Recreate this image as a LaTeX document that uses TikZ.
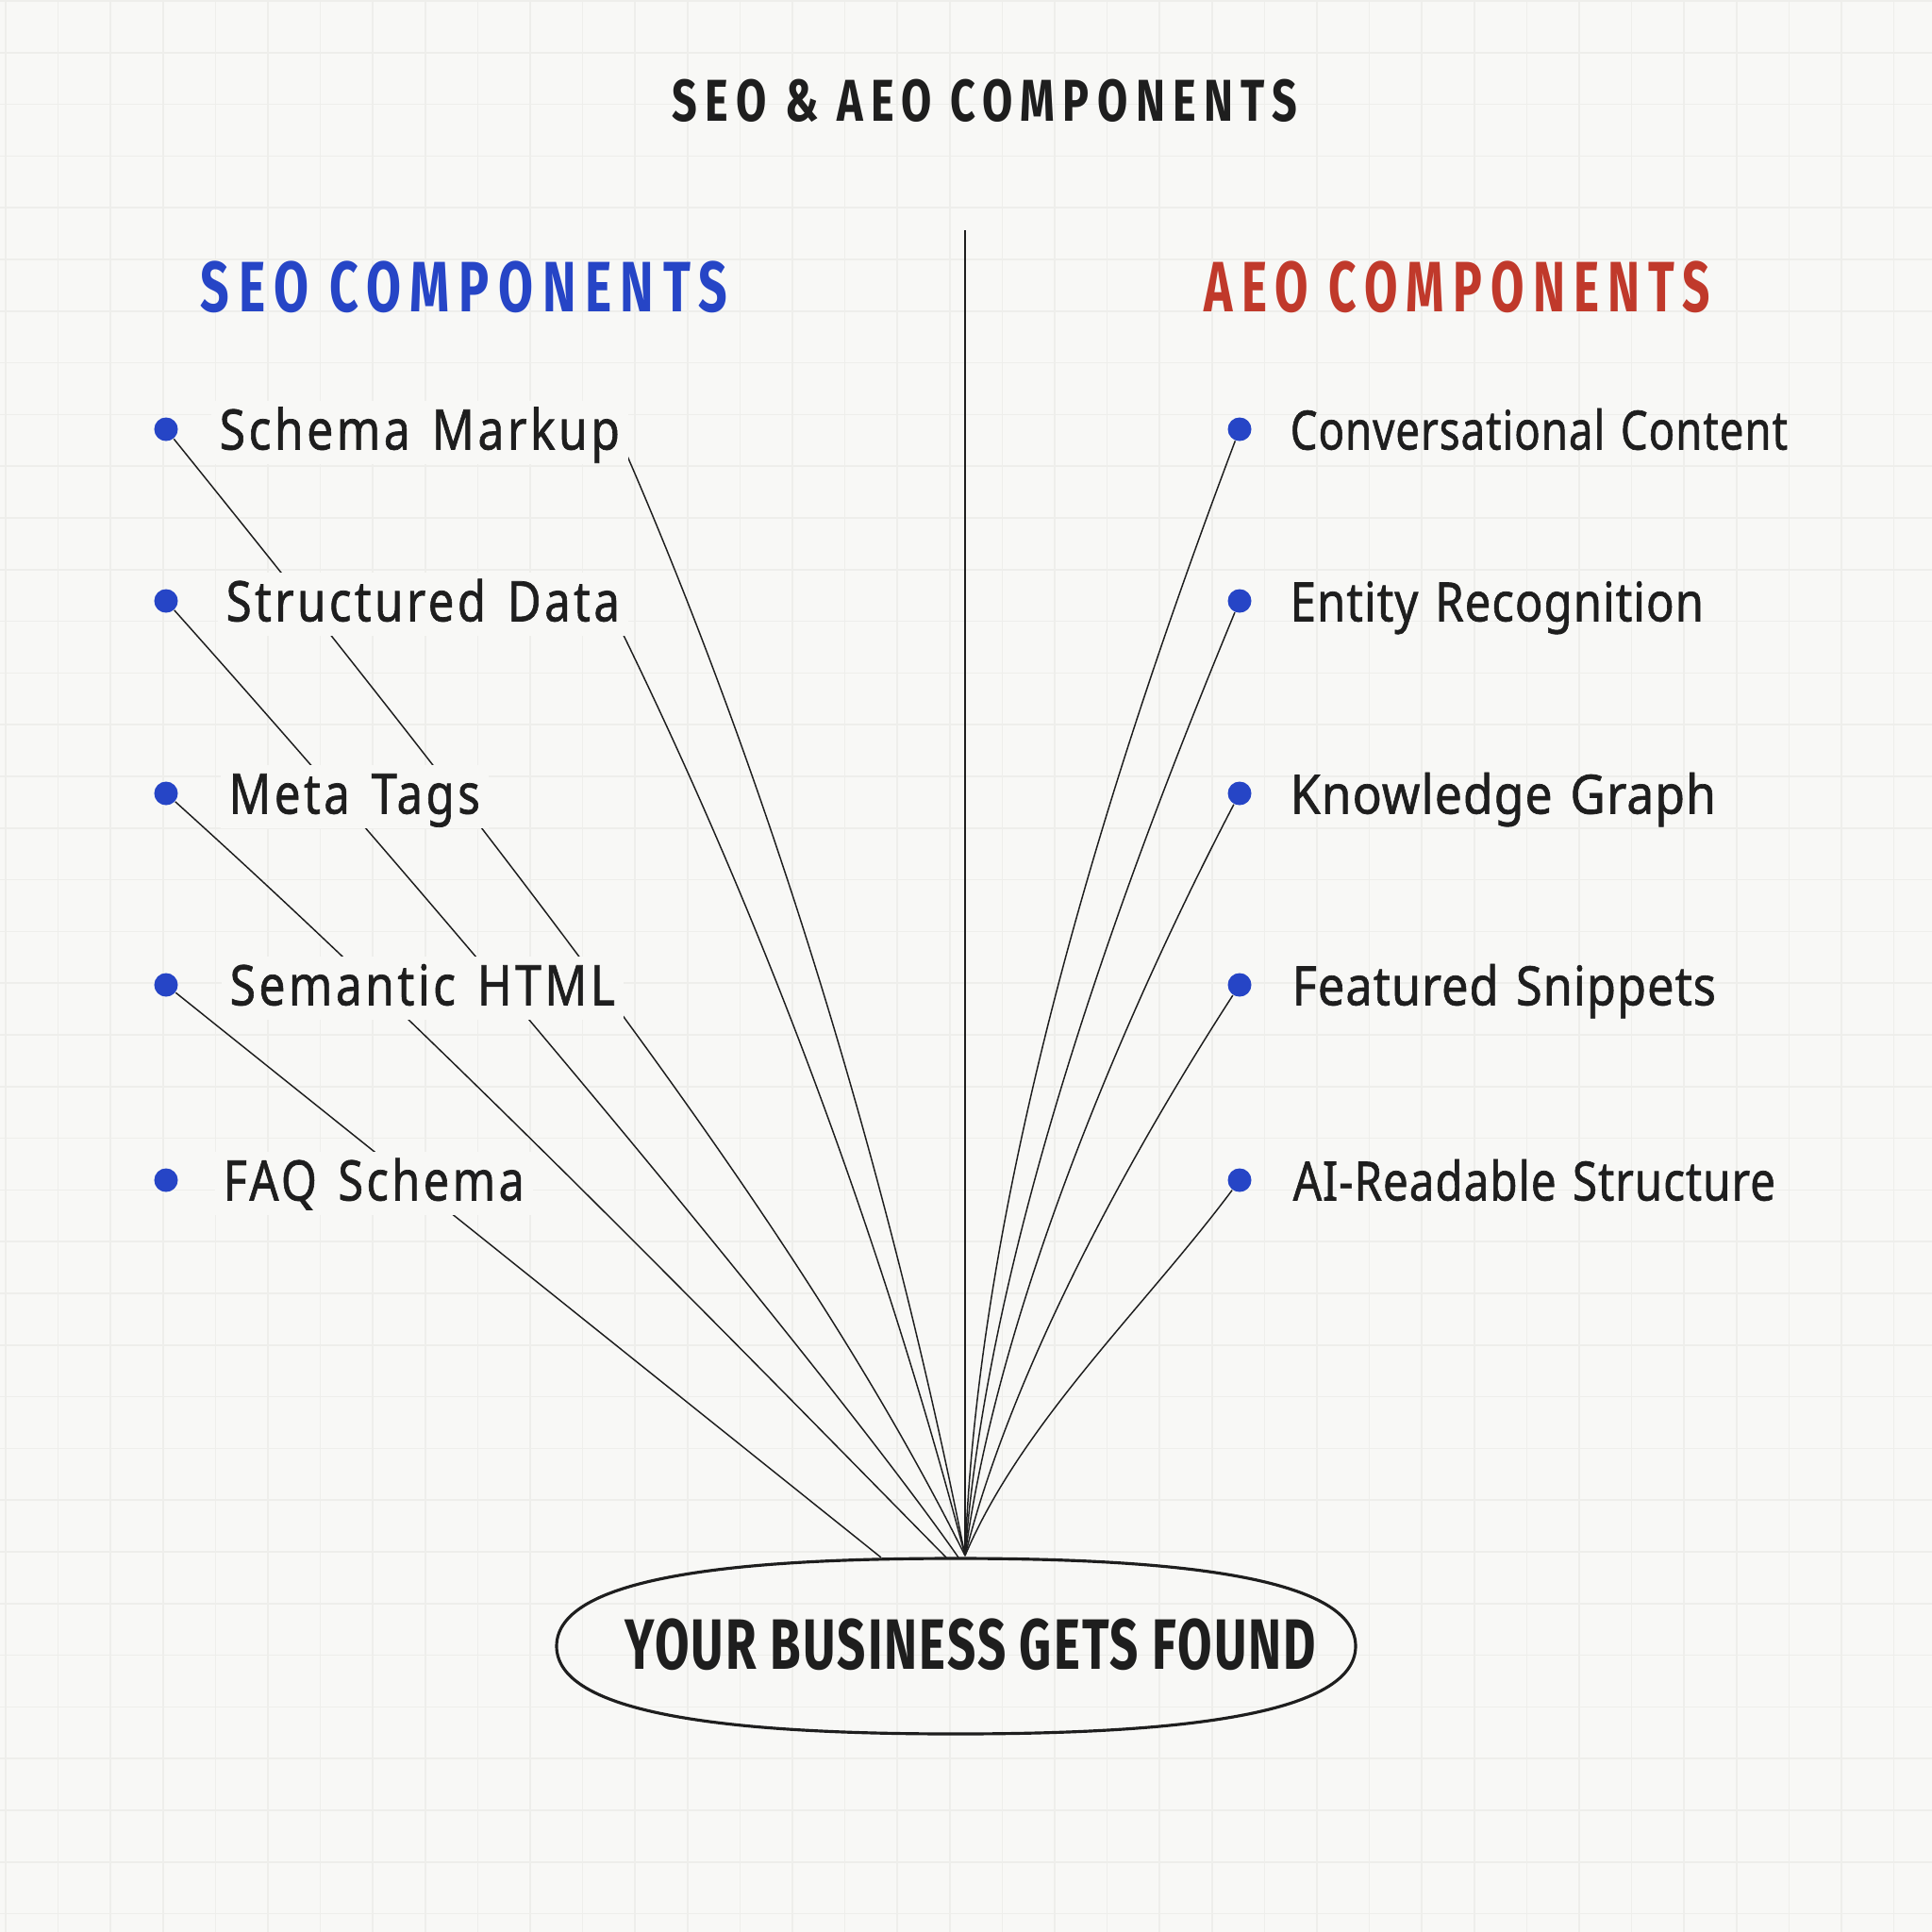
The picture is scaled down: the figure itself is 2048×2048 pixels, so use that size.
\documentclass[tikz,border=0pt]{standalone}
\usepackage{fontspec}
\usepackage{graphicx}
\setmainfont{Noto Sans}
\newfontfamily\labelfont{Noto Sans}[LetterSpace=7, FakeBold=1.2, WordSpace=1.4]
\newfontfamily\rlabelfont{Noto Sans}[LetterSpace=2, FakeBold=1.2, WordSpace=1.3]
\newfontfamily\headfont{Fira Sans}[LetterSpace=18]
\newfontfamily\goalfont{Fira Sans}[LetterSpace=4]
\definecolor{bg}{HTML}{F8F8F6}
\definecolor{gridc}{HTML}{EEEEEB}
\definecolor{seoblue}{HTML}{2645C6}
\definecolor{aeored}{HTML}{C0392B}
\definecolor{ink}{HTML}{1E1E1E}
\newcommand{\fitw}[2]{\resizebox{#1}{\height}{#2}}
\pgfdeclarelayer{gridlayer}
\pgfdeclarelayer{linelayer}
\pgfsetlayers{gridlayer,linelayer,main}
\tikzset{
  gridline/.style={draw=gridc, line width=0.45pt},
  conn/.style={draw=ink, line width=0.42pt},
  vline/.style={draw=ink, line width=0.6pt},
  bullet/.style={circle, fill=seoblue, inner sep=0pt, minimum size=0.25cm},
  lab/.style={anchor=base west, fill=bg, inner xsep=0.09cm, inner ysep=0pt,
    text height=0.515cm, text depth=0.155cm, text=ink,
    font=\labelfont\fontsize{16.8}{20}\selectfont},
  rlab/.style={anchor=base west, inner xsep=0.09cm, inner ysep=0pt, text=ink,
    font=\rlabelfont\fontsize{16.3}{20}\selectfont},
  titletext/.style={text=ink, inner sep=0pt, font=\headfont\bfseries\fontsize{17.8}{20}\selectfont},
  headtext/.style={inner sep=0pt, font=\headfont\bfseries\fontsize{21.5}{24}\selectfont},
  goaltext/.style={text=ink, inner sep=0pt, font=\goalfont\bfseries\fontsize{21.5}{24}\selectfont},
  goalshape/.style={draw=ink, line width=0.9pt}
}
\begin{document}
\begin{tikzpicture}[x=0.01cm,y=-0.01cm]
\useasboundingbox (0,0) rectangle (2048,2048);
\begin{pgfonlayer}{gridlayer}
\fill[bg] (0,0) rectangle (2048,2048);
\foreach \i in {0,...,36} {\draw[gridline] ({6+55.6*\i},0) -- ({6+55.6*\i},2048);}
\foreach \j in {0,...,37} {\draw[gridline] (0,{1+54.8*\j}) -- (2048,{1+54.8*\j});}
\end{pgfonlayer}

% titles
\node[titletext] (title) at (1044,106.5) {\fitw{6.62cm}{SEO \& AEO COMPONENTS}};
\node[headtext, text=seoblue] (seoh) at (492,304) {\fitw{5.58cm}{SEO COMPONENTS}};
\node[headtext, text=aeored] (aeoh) at (1545,304) {\fitw{5.36cm}{AEO COMPONENTS}};

% left labels
\node[lab] (sm) at (223,476.5) {\fitw{4.24cm}{Schema Markup}};
\node[lab] (sd) at (230,658.5) {\fitw{4.17cm}{Structured Data}};
\node[lab] (mt) at (233,862.5) {\fitw{2.66cm}{Meta Tags}};
\node[lab] (sh) at (234,1065.5) {\fitw{4.08cm}{Semantic HTML}};
\node[lab] (fq) at (227,1272.5) {\fitw{3.19cm}{FAQ Schema}};

% right labels
\node[rlab] (cc) at (1358,476.5) {\fitw{5.27cm}{Conversational Content}};
\node[rlab] (er) at (1358,658.5) {\fitw{4.38cm}{Entity Recognition}};
\node[rlab] (kg) at (1358,862.5) {\fitw{4.51cm}{Knowledge Graph}};
\node[rlab] (fs) at (1360,1065.5) {\fitw{4.49cm}{Featured Snippets}};
\node[rlab] (ar) at (1361,1272.5) {\fitw{5.11cm}{AI-Readable Structure}};

% bullets
\node[bullet] (l1) at (176,455) {};
\node[bullet] (l2) at (176,637) {};
\node[bullet] (l3) at (176,841) {};
\node[bullet] (l4) at (176,1044) {};
\node[bullet] (l5) at (176,1251) {};
\node[bullet] (r1) at (1314,455) {};
\node[bullet] (r2) at (1314,637) {};
\node[bullet] (r3) at (1314,841) {};
\node[bullet] (r4) at (1314,1044) {};
\node[bullet] (r5) at (1314,1251) {};

% goal
\draw[goalshape] (590,1745) .. controls (590,1668) and (800,1652) .. (1013,1652)
  .. controls (1226,1652) and (1437,1668) .. (1437,1745)
  .. controls (1437,1822) and (1226,1838) .. (1013,1838)
  .. controls (800,1838) and (590,1822) .. cycle;
\node[goaltext] (goal) at (1029,1743) {\fitw{7.32cm}{YOUR BUSINESS GETS FOUND}};

\coordinate (conv) at (1023,1649);
\coordinate (ea) at (934,1651);
\coordinate (eb) at (1003,1651);
\coordinate (ec) at (1016,1651);
\coordinate (vtop) at (1023,244);
\coordinate (fstart) at ([xshift=-0.02cm,yshift=0.1cm]sm.south east);
\coordinate (estart) at ([xshift=-0.06cm,yshift=0.02cm]sd.south east);

\begin{pgfonlayer}{linelayer}
\draw[vline] (vtop) -- (conv);
\draw[conn] (l1) .. controls (626,1013) and (873,1348) .. (conv);
\draw[conn] (l2) .. controls (526,1029) and (896,1479) .. (ec);
\draw[conn] (l3) .. controls (476,1111) and (803,1448) .. (eb);
\draw[conn] (l4) -- (ea);
\draw[conn] (fstart) .. controls (800,795) and (933,1198) .. (conv);
\draw[conn] (estart) .. controls (807,973) and (933,1306) .. (conv);
\draw[conn] (r1) .. controls (1184,800) and (1038,1248) .. (conv);
\draw[conn] (r2) .. controls (1194,927) and (1048,1318) .. (conv);
\draw[conn] (r3) .. controls (1194,1071) and (1058,1388) .. (conv);
\draw[conn] (r4) .. controls (1204,1214) and (1073,1448) .. (conv);
\draw[conn] (r5) .. controls (1214,1385) and (1083,1508) .. (conv);
\end{pgfonlayer}
\end{tikzpicture}
\end{document}
